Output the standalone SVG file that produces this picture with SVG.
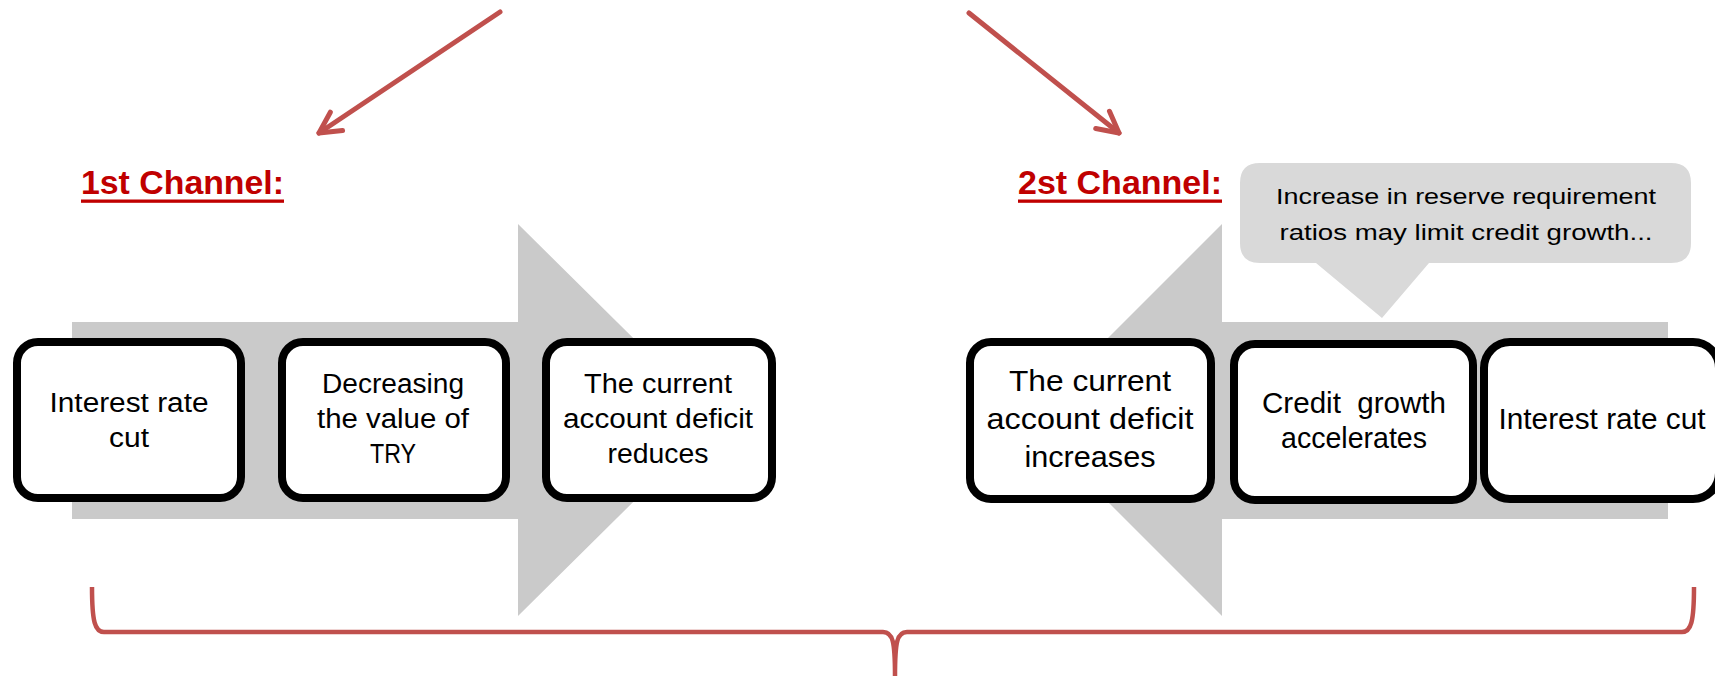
<svg xmlns="http://www.w3.org/2000/svg" width="1715" height="676" viewBox="0 0 1715 676">
<style>
.bg{fill:#ffffff}
.band{fill:#cacaca}
.box{fill:#ffffff;stroke:#000000;stroke-width:8}
.t{font-family:"Liberation Sans",Arial,sans-serif;font-size:27px;fill:#000000;text-anchor:middle}
.tr{font-family:"Liberation Sans",Arial,sans-serif;font-size:29px;fill:#000000;text-anchor:middle}
.ct{font-family:"Liberation Sans",Arial,sans-serif;font-size:22px;fill:#000000;text-anchor:middle}
.h{font-family:"Liberation Sans",Arial,sans-serif;font-size:33px;font-weight:bold;fill:#c00000}
.ul{fill:#c00000}
.conn{fill:none;stroke:#c0504d;stroke-width:5;stroke-linecap:round}
.brace{fill:none;stroke:#c0504d;stroke-width:4.5}
.callout{fill:#d9d9d9}
</style>
<defs>
<marker id="chev" markerUnits="userSpaceOnUse" viewBox="-28 -16 32 32" refX="0" refY="0" markerWidth="32" markerHeight="32" orient="auto" overflow="visible">
<path d="M-21,-11 L0,0 L-21,11" fill="none" stroke="#c0504d" stroke-width="5" stroke-linecap="round" stroke-linejoin="round"/>
</marker>
</defs>
<rect class="bg" x="0" y="0" width="1715" height="676"/>

<g id="band-left">
<polygon class="band" points="72,322 518,322 518,224 716,420 518,616 518,519 72,519"/>
</g>
<g id="band-right">
<polygon class="band" points="1668,322 1222,322 1222,224 1026,420 1222,616 1222,519 1668,519"/>
</g>

<g id="connectors">
<line class="conn" x1="500" y1="12" x2="319" y2="133" marker-end="url(#chev)"/>
<line class="conn" x1="969" y1="13" x2="1119" y2="133" marker-end="url(#chev)"/>
<path class="brace" d="M92,587 C92,622 95,632 104,632 L883,632 C893,632 895,642 895,676 M1694,587 C1694,622 1691,632 1682,632 L907,632 C897,632 895,642 895,676"/>
</g>

<g id="heading-1">
<text class="h" x="81" y="194" textLength="203" lengthAdjust="spacingAndGlyphs">1st Channel:</text>
<rect class="ul" x="81" y="199.5" width="203" height="3.3"/>
</g>
<g id="heading-2">
<text class="h" x="1018" y="194" textLength="204" lengthAdjust="spacingAndGlyphs">2st Channel:</text>
<rect class="ul" x="1018" y="199.5" width="204" height="3.3"/>
</g>

<g id="callout">
<path class="callout" d="M1260,163 H1671 Q1691,163 1691,183 V243 Q1691,263 1671,263 H1429 L1382,318 L1316,263 H1260 Q1240,263 1240,243 V183 Q1240,163 1260,163 Z"/>
<text class="ct" x="1466" y="204" textLength="380" lengthAdjust="spacingAndGlyphs">Increase in reserve requirement</text>
<text class="ct" x="1466" y="240" textLength="373" lengthAdjust="spacingAndGlyphs">ratios may limit credit growth...</text>
</g>

<g id="node-l1">
<rect class="box" x="17" y="342" width="224" height="156" rx="21" ry="21"/>
<text class="t" x="129" y="412" textLength="159" lengthAdjust="spacingAndGlyphs">Interest rate</text>
<text class="t" x="129" y="447" textLength="40" lengthAdjust="spacingAndGlyphs">cut</text>
</g>
<g id="node-l2">
<rect class="box" x="282" y="342" width="224" height="156" rx="21" ry="21"/>
<text class="t" x="393" y="393" textLength="142" lengthAdjust="spacingAndGlyphs">Decreasing</text>
<text class="t" x="393" y="428" textLength="152" lengthAdjust="spacingAndGlyphs">the value of</text>
<text class="t" x="393" y="463" textLength="46" lengthAdjust="spacingAndGlyphs">TRY</text>
</g>
<g id="node-l3">
<rect class="box" x="546" y="342" width="226" height="156" rx="21" ry="21"/>
<text class="t" x="658" y="393" textLength="148" lengthAdjust="spacingAndGlyphs">The current</text>
<text class="t" x="658" y="428" textLength="190" lengthAdjust="spacingAndGlyphs">account deficit</text>
<text class="t" x="658" y="463" textLength="101" lengthAdjust="spacingAndGlyphs">reduces</text>
</g>

<g id="node-r1">
<rect class="box" x="970" y="342" width="241" height="157" rx="21" ry="21"/>
<text class="tr" x="1090" y="391" textLength="162" lengthAdjust="spacingAndGlyphs">The current</text>
<text class="tr" x="1090" y="429" textLength="207" lengthAdjust="spacingAndGlyphs">account deficit</text>
<text class="tr" x="1090" y="467" textLength="131" lengthAdjust="spacingAndGlyphs">increases</text>
</g>
<g id="node-r2">
<rect class="box" x="1234" y="344" width="239" height="156" rx="21" ry="21"/>
<text class="tr" x="1354" y="413" textLength="184" lengthAdjust="spacingAndGlyphs" style="white-space:pre">Credit  growth</text>
<text class="tr" x="1354" y="448" textLength="146" lengthAdjust="spacingAndGlyphs">accelerates</text>
</g>
<g id="node-r3">
<rect class="box" x="1484" y="342" width="235" height="157" rx="26" ry="26"/>
<text class="tr" x="1602" y="429" textLength="207" lengthAdjust="spacingAndGlyphs">Interest rate cut</text>
</g>
</svg>
